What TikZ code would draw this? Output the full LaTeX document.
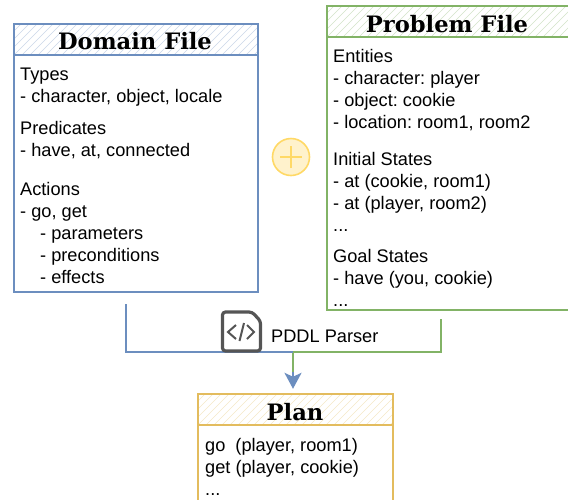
\documentclass[tikz,border=0pt]{standalone}
\usepackage{fontspec}
\setmainfont{Liberation Sans}
\newfontfamily\titlefont{DejaVu Serif}
\usepackage{tikz}
\usetikzlibrary{arrows.meta}
\definecolor{bluedge}{HTML}{6C8EBF}
\definecolor{greenedge}{HTML}{82B366}
\definecolor{yellowedge}{HTML}{E3BC5E}
\definecolor{plusedge}{HTML}{FFD966}
\definecolor{plusfill}{HTML}{FFF2CC}
\definecolor{iconedge}{HTML}{555555}
\tikzset{
    filebox/.style={draw=#1,line width=1.2pt,inner sep=0pt,fill=white},
    titlefont/.style={font=\titlefont\bfseries\fontsize{22.6}{23}\selectfont},
    titlebox/.style={draw=#1,line width=1.2pt,inner sep=0pt,
        path picture={
            \foreach \i in {-320,-312,...,320}
                \draw[#1!35,line width=0.6pt] ([xshift=\i pt]path picture bounding box.south west) -- ++(40pt,40pt);
        }},
    titletext/.style={titlefont,inner sep=0pt},
    textnode/.style={anchor=north west,align=left,inner sep=0pt,font=\frenchspacing\fontsize{18.2}{22}\selectfont},
    flow/.style={draw=#1,line width=2.4pt}
}
\begin{document}
\begin{tikzpicture}[x=1pt,y=-1pt]
\useasboundingbox (0,0) rectangle (568,499);

% boxes
\node[filebox=bluedge,minimum width=244pt,minimum height=268pt] (DF) at (136,158) {};
\node[titlebox=bluedge,minimum width=244pt,minimum height=31pt] (DFT) at (136,39.5) {};
\node[titletext] (DFL) at (135,41) {Domain File};
\node[filebox=greenedge,minimum width=260pt,minimum height=304pt] (PF) at (457,158) {};
\node[titlebox=greenedge,minimum width=260pt,minimum height=31pt] (PFT) at (457,21.5) {};
\node[titletext] (PFL) at (447,24) {Problem File};
\node[filebox=yellowedge,minimum width=195pt,minimum height=130pt] (PL) at (295.5,459) {};
\node[titlebox=yellowedge,minimum width=195pt,minimum height=31pt] (PLT) at (295.5,409.5) {};
\node[titletext] (PLL) at (295,412) {Plan};

% domain text
\node[textnode] (types) at (20,68) {Types\\- character, object, locale};
\node[textnode] (preds) at (20,121) {Predicates\\- have, at, connected};
\node[textnode] (acts) at (20,182) {Actions\\- go, get\\\hspace{20pt}- parameters\\\hspace{20pt}- preconditions\\\hspace{20pt}- effects};

% problem text
\node[textnode] (ents) at (333,49) {Entities\\- character: player\\- object: cookie\\- location: room1, room2};
\node[textnode] (inits) at (333,152) {Initial States\\- at (cookie, room1)\\- at (player, room2)\\...};
\node[textnode] (goals) at (333,249) {Goal States\\- have (you, cookie)\\...};

% plan text
\node[textnode] (steps) at (205,438) {go\hspace{5pt} (player, room1)\\get (player, cookie)\\...};

% plus sign
\node[circle,draw=plusedge,fill=plusfill,line width=1.6pt,minimum size=37pt,inner sep=0pt] (plus) at (291,157) {};
\draw[plusedge,line width=1.4pt] ([xshift=-11pt]plus.center) -- ([xshift=11pt]plus.center);
\draw[plusedge,line width=1.4pt] ([yshift=-11pt]plus.center) -- ([yshift=11pt]plus.center);

% parser connectors
\coordinate (DE) at (126,304);
\coordinate (PE) at (441,319);
\coordinate (JN) at (293,352);
\node[inner sep=0pt,minimum size=0pt] (PT) at (293,389) {};
\draw[flow=greenedge] (PE) -- (441,352) -- (JN) -- (293,378);
\draw[flow=bluedge] (DE) -- (126,352) -- (JN);
\draw[bluedge,line width=2.4pt,-{Stealth[length=16pt,width=17pt,inset=4pt]}] (293,372) -- (PT);

% parser icon
\node[font=\fontsize{18.2}{22}\selectfont,inner sep=0pt,anchor=west] (PP) at (271,336) {PDDL Parser};
\draw[iconedge,line width=3.2pt,rounded corners=3pt,fill=white] (222.5,312) -- (252,312) -- (260.5,321) -- (260.5,351) -- (222.5,351) -- cycle;
\draw[iconedge,line width=2pt] (236,325) -- (228,332) -- (236,339);
\draw[iconedge,line width=2pt] (247,325) -- (254,332) -- (247,339);
\draw[iconedge,line width=2pt] (244,323) -- (239.5,341);
\end{tikzpicture}
\end{document}
